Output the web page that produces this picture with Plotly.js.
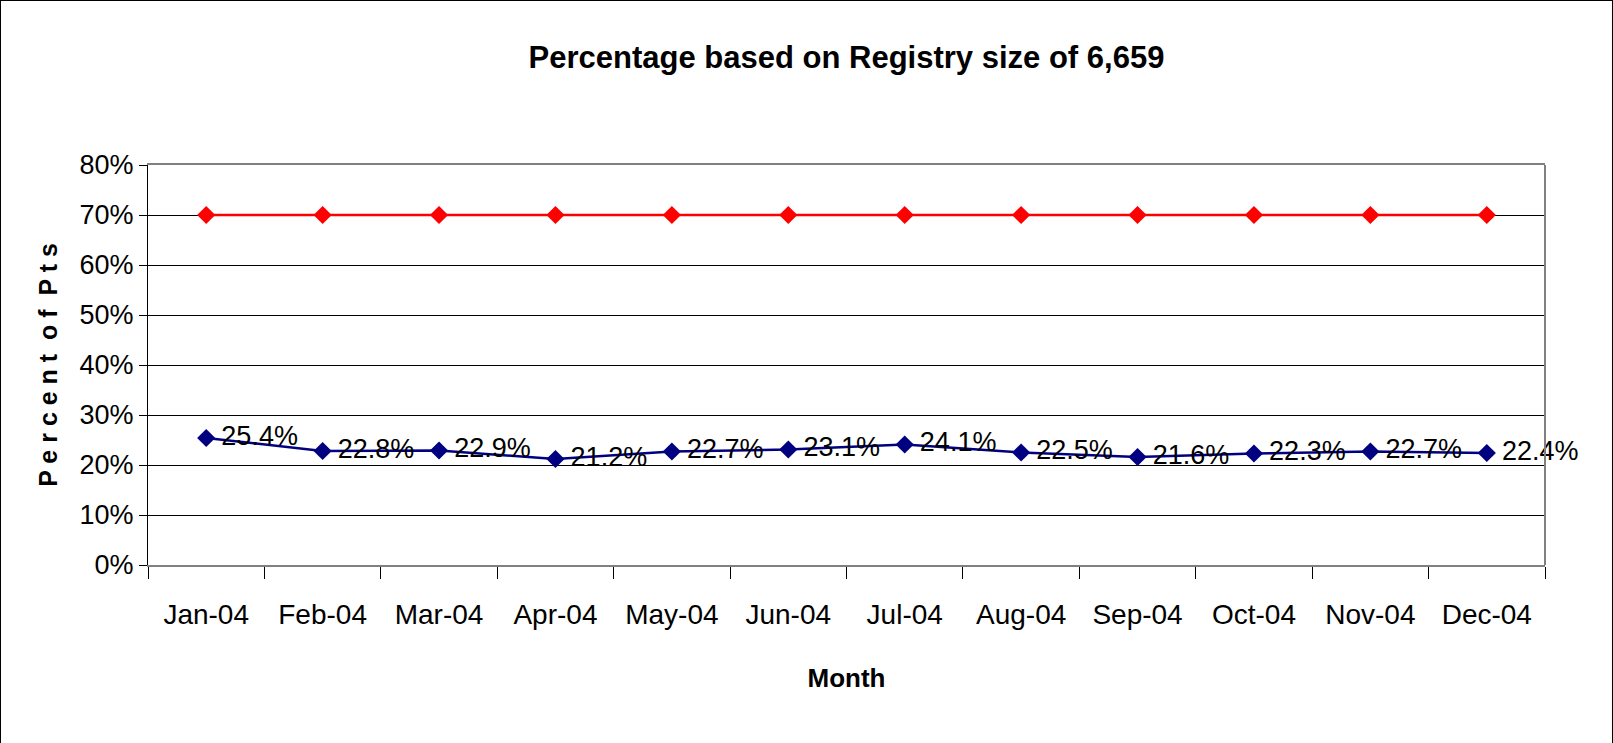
<!DOCTYPE html>
<html>
<head>
<meta charset="utf-8">
<script src="https://cdn.plot.ly/plotly-3.0.1.min.js"></script>
<style>
  html, body { margin: 0; padding: 0; background: #d9cf9f; }
  #frame { position: absolute; left: 0; top: 0; width: 1611px; height: 742px;
           border-left: 1px solid #000; border-top: 1px solid #000; border-right: 1px solid #000;
           border-bottom: 1px solid #999; background: #fff; overflow: hidden; }
  #chart { position: absolute; left: -1px; top: -1px; width: 1613px; height: 743px; }
</style>
</head>
<body>
<div id="frame"><div id="chart"></div></div>
<script>
// ---- data ----
const months = ["Jan-04","Feb-04","Mar-04","Apr-04","May-04","Jun-04","Jul-04","Aug-04","Sep-04","Oct-04","Nov-04","Dec-04"];
const targetPct = [70,70,70,70,70,70,70,70,70,70,70,70];
const actualPct = [25.4,22.8,22.9,21.2,22.7,23.1,24.1,22.5,21.6,22.3,22.7,22.4];
const yTickVals = [0,10,20,30,40,50,60,70,80];
const yTickText = ["0%","10%","20%","30%","40%","50%","60%","70%","80%"];

const FONT = "'Liberation Sans Narrow', 'Arial Narrow', 'Liberation Sans', Arial, sans-serif";

const traces = [
  {
    x: months, y: targetPct, type: "scatter", mode: "lines+markers",
    line: {color: "#FF0000", width: 2.5},
    marker: {symbol: "diamond", size: 14, color: "#FF0000"},
    hoverinfo: "skip", showlegend: false
  },
  {
    x: months, y: actualPct, type: "scatter", mode: "lines+markers+text",
    line: {color: "#000080", width: 2.5},
    marker: {symbol: "diamond", size: 14, color: "#000080"},
    text: actualPct.map(v => "\u2009" + v.toFixed(1) + "%"),
    textposition: "middle right",
    textfont: {family: FONT, size: 27, color: "#000"},
    cliponaxis: false,
    hoverinfo: "skip", showlegend: false
  }
];

const layout = {
  width: 1613, height: 743,
  margin: {l: 148, r: 68, t: 165, b: 178},
  paper_bgcolor: "rgba(0,0,0,0)",
  plot_bgcolor: "#fff",
  font: {family: FONT, color: "#000"},
  title: {
    text: "<b>Percentage based on Registry size of 6,659</b>",
    font: {family: FONT, size: 31, color: "#000"},
    x: 0.5, xanchor: "center", xref: "paper",
    y: 1 - 57/743, yanchor: "middle"
  },
  xaxis: {
    type: "category",
    range: [-0.5, 11.5],
    tickson: "boundaries",
    ticks: "outside", ticklen: 12, tickcolor: "#000", tickwidth: 1,
    showline: true, linecolor: "#808080", linewidth: 2, mirror: true,
    showgrid: false, zeroline: false,
    tickfont: {family: FONT, size: 28, color: "#000"},
    ticklabelstandoff: 23,
    title: {text: "<b>Month</b>", font: {family: FONT, size: 26, color: "#000"}, standoff: 40}
  },
  yaxis: {
    range: [0, 80],
    tickvals: yTickVals, ticktext: yTickText,
    ticks: "outside", ticklen: 8, tickcolor: "#000", tickwidth: 1,
    showline: true, linecolor: "#000", linewidth: 1,
    showgrid: true, gridcolor: "#000", gridwidth: 1,
    zeroline: false,
    tickfont: {family: FONT, size: 27, color: "#000"},
    title: {text: "<b>P e r c e n t  o f  P t s</b>", font: {family: FONT, size: 25, color: "#000"}, standoff: 14}
  },
  shapes: [
    {type: "line", xref: "paper", yref: "paper", x0: 1, x1: 1, y0: 0, y1: 1,
     line: {color: "#808080", width: 2}}
  ]
};

Plotly.newPlot("chart", traces, layout, {displayModeBar: false, staticPlot: true});
</script>
</body>
</html>
